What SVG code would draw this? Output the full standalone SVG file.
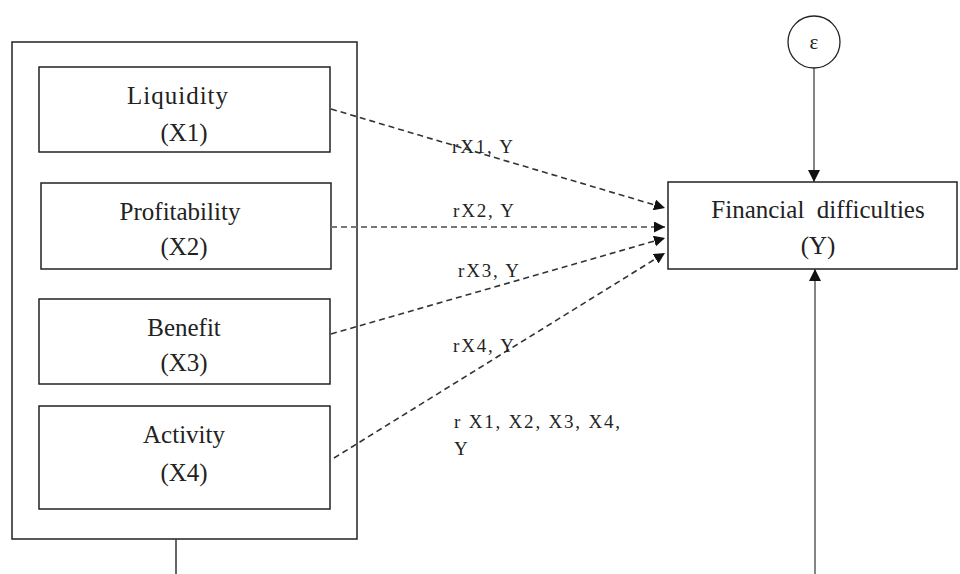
<svg xmlns="http://www.w3.org/2000/svg" width="960" height="574" viewBox="0 0 960 574">
<style>
.box{fill:#fff;stroke:#222;stroke-width:1.5}
.t{font-family:"Liberation Serif","Times New Roman",serif;font-size:25px;fill:#222;text-anchor:middle}
.l{font-family:"Liberation Serif","Times New Roman",serif;font-size:19px;fill:#222;letter-spacing:1.8px}
.dash{stroke:#333;stroke-width:1.6;stroke-dasharray:6 4;fill:none}
.solid{stroke:#333;stroke-width:1.2;fill:none}
</style>
<defs>
<marker id="ah" viewBox="0 0 10 10" refX="10" refY="5" markerWidth="11" markerHeight="11" markerUnits="userSpaceOnUse" orient="auto">
<path d="M0,0 L10,5 L0,10 z" fill="#111"/>
</marker>
<marker id="ah2" viewBox="0 0 10 10" refX="10" refY="5" markerWidth="12" markerHeight="12" markerUnits="userSpaceOnUse" orient="auto">
<path d="M0,0 L10,5 L0,10 z" fill="#111"/>
</marker>
</defs>
<rect width="960" height="574" fill="#fff"/>
<g id="group">
<rect class="box" x="12" y="42" width="345" height="497"/>
</g>
<g id="x1">
<rect class="box" x="39" y="67" width="291" height="85"/>
<text class="t" x="178" y="104" style="letter-spacing:1px">Liquidity</text>
<text class="t" x="184" y="141">(X1)</text>
</g>
<g id="x2">
<rect class="box" x="41" y="183" width="290" height="86"/>
<text class="t" x="180" y="220">Profitability</text>
<text class="t" x="184" y="255">(X2)</text>
</g>
<g id="x3">
<rect class="box" x="39" y="299" width="291" height="85"/>
<text class="t" x="184" y="336">Benefit</text>
<text class="t" x="184" y="371">(X3)</text>
</g>
<g id="x4">
<rect class="box" x="39" y="406" width="291" height="103"/>
<text class="t" x="184" y="443">Activity</text>
<text class="t" x="184" y="481">(X4)</text>
</g>
<g id="y">
<rect class="box" x="668" y="182" width="289" height="87"/>
<text class="t" x="818" y="218" xml:space="preserve">Financial  difficulties</text>
<text class="t" x="818" y="254">(Y)</text>
</g>
<g id="eps">
<circle cx="814" cy="42" r="26" fill="#fff" stroke="#222" stroke-width="1.3"/>
<text class="t" x="814" y="49" style="font-size:21px">ε</text>
</g>
<g id="connectors">
<line class="dash" x1="331" y1="109" x2="665" y2="208" marker-end="url(#ah)"/>
<line class="dash" x1="331" y1="227" x2="665" y2="227" marker-end="url(#ah)" style="stroke:#777;stroke-width:2.2"/>
<line class="dash" x1="331" y1="334" x2="665" y2="238" marker-end="url(#ah)"/>
<line class="dash" x1="334" y1="458" x2="665" y2="253" marker-end="url(#ah)"/>
<line class="solid" x1="814" y1="68" x2="814" y2="182" marker-end="url(#ah2)"/>
<line class="solid" x1="815" y1="574" x2="815" y2="269" marker-end="url(#ah2)"/>
<line class="solid" x1="176" y1="539" x2="176" y2="574" style="stroke-width:1.5"/>
</g>
<g id="labels">
<text class="l" x="452" y="153">rX1, Y</text>
<text class="l" x="453" y="217">rX2, Y</text>
<text class="l" x="458" y="277">rX3, Y</text>
<text class="l" x="453" y="352">rX4, Y</text>
<text class="l" x="454" y="428">r X1, X2, X3, X4,</text>
<text class="l" x="454" y="455">Y</text>
</g>
</svg>
